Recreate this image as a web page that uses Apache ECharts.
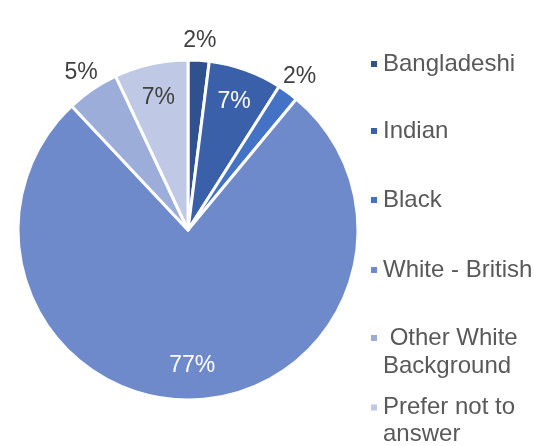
<!DOCTYPE html>
<html>
<head>
<meta charset="utf-8">
<script src="https://cdn.jsdelivr.net/npm/echarts@6/dist/echarts.min.js"></script>
<style>
  html, body { margin: 0; padding: 0; background: #fff; }
  #chart { width: 534px; height: 446px; }
</style>
</head>
<body>
<div id="chart"></div>
<script>
// data
var categories = ['Bangladeshi', 'Indian', 'Black', 'White - British', 'Other White Background', 'Prefer not to answer'];
var values = [2, 7, 2, 77, 5, 7];
var colors = ['#2f528f', '#3a60aa', '#4472c4', '#6f8acb', '#9dadda', '#bfc8e5'];

(function () {
  var dom = document.getElementById('chart');
  var myChart = echarts.init(dom);
  var font = 'Liberation Sans, Arial, sans-serif';

  // which slices get their label inside, and in which colour
  var inside = { 'Indian': '#fff', 'White - British': '#fff', 'Prefer not to answer': '#404040' };

  var pieData = categories.map(function (n, i) {
    return { name: n, value: values[i], itemStyle: { color: colors[i] } };
  });
  var inData = categories.map(function (n, i) {
    return {
      name: n, value: values[i],
      label: { show: !!inside[n], color: inside[n] || '#404040' }
    };
  });
  var outData = categories.map(function (n, i) {
    return { name: n, value: values[i], label: { show: !inside[n] } };
  });

  // blank first line keeps the marker level with the first text line
  var legendText = {
    'Other White Background': '\n Other White\nBackground',
    'Prefer not to answer': '\nPrefer not to\nanswer'
  };
  var legendTops = [52, 119, 188, 258, 296, 367];
  var legendLH = [24, 24, 24, 24, 28, 27];
  var legends = categories.map(function (n, i) {
    return {
      data: [n],
      left: 369,
      top: legendTops[i],
      padding: 0,
      icon: 'rect',
      itemWidth: 8,
      itemHeight: 8,
      itemGap: 0,
      selectedMode: false,
      formatter: function (name) { return legendText[name] || name; },
      textStyle: {
        fontFamily: font,
        fontSize: 24,
        color: '#595959',
        lineHeight: legendLH[i]
      }
    };
  });

  var ringLabel = {
    position: 'inside',
    formatter: '{d}%',
    fontFamily: font,
    fontSize: 23,
    color: '#404040'
  };

  myChart.setOption({
    animation: false,
    legend: legends,
    series: [
      {
        type: 'pie',
        center: [188, 230],
        radius: [0, 170],
        startAngle: 90,
        clockwise: true,
        silent: true,
        itemStyle: { borderColor: '#fff', borderWidth: 3 },
        label: { show: false },
        labelLine: { show: false },
        data: pieData
      },
      {
        type: 'pie',
        center: [188, 230],
        radius: [98, 168],
        startAngle: 90,
        silent: true,
        percentPrecision: 0,
        itemStyle: { color: 'transparent' },
        label: ringLabel,
        labelLine: { show: false },
        data: inData
      },
      {
        type: 'pie',
        center: [188, 230],
        radius: [174, 200],
        startAngle: 90,
        silent: true,
        percentPrecision: 0,
        itemStyle: { color: 'transparent' },
        label: ringLabel,
        labelLine: { show: false },
        data: outData
      }
    ]
  });
})();
</script>
</body>
</html>
